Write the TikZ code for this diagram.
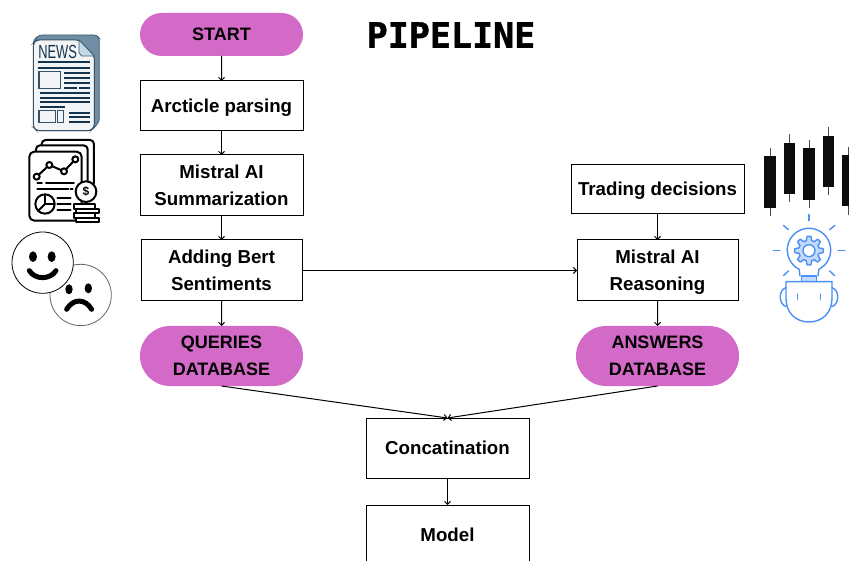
\documentclass[tikz,border=0pt]{standalone}
\usepackage{fontspec}
\setmainfont{Liberation Sans}
\newfontfamily\titlefont[BoldFeatures={FakeBold=1.2}]{DejaVu Sans Mono}
\usetikzlibrary{arrows.meta,shapes.misc}
\definecolor{pinkfill}{HTML}{D36AC8}
\definecolor{newsdark}{HTML}{12344F}
\definecolor{newsback}{HTML}{6F8DA3}
\definecolor{newsfold}{HTML}{C3DAE6}
\definecolor{newspage}{HTML}{F3F4F5}
\definecolor{robotblue}{HTML}{4A90F5}
\definecolor{robotfill}{HTML}{C5D9FB}
\tikzset{
  txt/.style={font=\fontsize{18.7}{27}\selectfont\bfseries,align=center,inner sep=0pt,outer sep=0pt},
  box/.style={txt,draw=black,line width=1pt,fill=white},
  pill/.style={txt,font=\fontsize{18}{27}\selectfont\bfseries,fill=pinkfill,rounded rectangle,minimum width=163pt},
  flow/.style={draw=black,line width=1pt,-{Straight Barb[length=3pt,width=6pt]}},
  zoomed/.style={x=0.3333pt,y=-0.3333pt},
  newsbar/.style={draw=newsdark,line width=1.9pt},
  ink/.style={draw=black,line width=2pt,line join=round,line cap=round},
  face/.style={draw=black,line width=0.8pt,fill=white},
  feature/.style={draw=black,line width=5pt,line cap=round},
  candle/.style={fill=black!95,draw=none},
  wick/.style={draw=black!70,line width=1pt},
  robot/.style={draw=robotblue,line width=1.4pt,line cap=round,line join=round}
}
\begin{document}
\begin{tikzpicture}[x=1pt,y=-1pt]
\path[use as bounding box,clip] (0,0) rectangle (849,561);
\fill[white] (0,0) rectangle (849,561);

% Flow nodes
\node[pill,minimum height=43pt] (start) at (221.5,34.5) {START};
\node[box,minimum width=163pt,minimum height=50pt] (parse) at (221.5,106) {\raisebox{0pt}[12.6pt][0pt]{Arcticle parsing}};
\node[box,minimum width=163pt,minimum height=61pt] (summ) at (221.5,185.5) {Mistral AI\\Summarization};
\node[box,minimum width=161pt,minimum height=61pt] (bert) at (221.5,270.5) {Adding Bert\\Sentiments};
\node[pill,minimum height=60pt] (queries) at (221.5,356) {QUERIES\\DATABASE};
\node[box,minimum width=173pt,minimum height=49pt] (trade) at (657.5,189.5) {\raisebox{0pt}[12.6pt][0pt]{Trading decisions}};
\node[box,minimum width=161pt,minimum height=61pt] (reason) at (657.5,270.5) {Mistral AI\\\smash{Reasoning}};
\node[pill,minimum height=60pt] (answers) at (657.5,356) {ANSWERS\\DATABASE};
\node[box,minimum width=163pt,minimum height=60pt] (concat) at (447.5,448) {Concatination};
\node[box,minimum width=163pt,minimum height=60pt] (model) at (447.5,535) {Model};
\node[inner sep=0pt,font=\titlefont\fontsize{35}{35}\selectfont\bfseries] (title) at (451,35) {PIPELINE};

% Connectors
\draw[flow] (start) -- (parse);
\draw[flow] (parse) -- (summ);
\draw[flow] (summ) -- (bert);
\draw[flow] (bert) -- (queries);
\draw[flow] (bert) -- (reason);
\draw[flow] (trade) -- (reason);
\draw[flow] (reason) -- (answers);
\draw[flow] (queries.south) -- (concat.north);
\draw[flow] (answers.south) -- (concat.north);
\draw[flow] (concat) -- (model);

% Newspaper icon
\begin{scope}[shift={(0,20)},zoomed]
  \path[fill=newsback,draw=newsdark!80,line width=0.8pt,rounded corners=3pt]
    (118,45) -- (290,45) -- (298,55) -- (298,305) -- (275,332) -- (110,332) -- (100,60) -- cycle;
  \path[fill=newspage,draw=newsdark!85,line width=1pt,rounded corners=3pt]
    (110,60) -- (237,60) -- (283,108) -- (283,320) -- (272,332) -- (110,332) -- (100,322) -- (100,70) -- cycle;
  \path[fill=newsfold,draw=newsdark!80,line width=0.8pt] (237,60) -- (283,108) -- (245,108) -- (237,98) -- cycle;
  \node[inner sep=0pt,text=newsdark,font=\fontsize{19}{19}\selectfont,xscale=0.68] (newsword) at (173,97) {NEWS};
  \draw[newsbar] (113,127) -- (270,127);
  \draw[newsbar] (113,143) -- (270,143);
  \draw[newsdark!85,fill=newspage,line width=1.1pt] (117,154) rectangle (182,206);
  \foreach \yy in {159,174,188} \draw[newsbar] (192,\yy) -- (270,\yy);
  \draw[newsbar] (192,203) -- (231,203);
  \draw[newsbar] (238,203) -- (270,203);
  \foreach \yy in {218,233,247} \draw[newsbar] (120,\yy) -- (270,\yy);
  \draw[newsbar] (120,261) -- (195,261);
  \draw[newsdark!85,line width=1.1pt] (117,272) rectangle (166,308);
  \draw[newsdark!85,line width=1.1pt] (172,272) rectangle (190,308);
  \foreach \yy in {278,292,306} \draw[newsbar] (207,\yy) -- (270,\yy);
\end{scope}

% Financial report icon
\begin{scope}[shift={(0,130)},zoomed]
  \draw[ink,rounded corners=4pt] (125,45) -- (125,30) -- (282,30) -- (282,160);
  \draw[ink,rounded corners=4pt] (108,62) -- (108,46) -- (263,46) -- (263,160);
  \path[ink,fill=white,rounded corners=5pt] (88,65) rectangle (245,272);
  \draw[ink] (110,140) -- (148,105) -- (192,124) -- (226,88);
  \foreach \px/\py in {110/140,148/105,192/124,226/88}
    \path[ink,fill=white] (\px,\py) circle (9);
  \draw[ink] (112,160) -- (126,160);
  \draw[ink] (138,160) -- (222,160);
  \draw[ink] (112,178) -- (205,178);
  \draw[ink] (212,178) -- (218,178);
  \path[ink,fill=white] (135,222) circle (29);
  \draw[ink] (135,222) -- (135,193);
  \draw[ink] (135,222) -- (162,222);
  \draw[ink] (135,222) -- (115,242);
  \draw[ink] (172,203) -- (212,203);
  \draw[ink] (172,222) -- (212,222);
  \draw[ink] (172,240) -- (212,240);
  \path[ink,fill=white] (258,185) circle (31);
  \node[inner sep=0pt,font=\fontsize{12}{12}\selectfont\bfseries] (dollar) at (258,185) {\$};
  \path[ink,fill=white] (222,222) rectangle (285,236);
  \path[ink,fill=white] (228,236) rectangle (296,250);
  \path[ink,fill=white] (222,250) rectangle (285,264);
  \path[ink,fill=white] (228,264) rectangle (296,277);
\end{scope}

% Smileys
\begin{scope}[shift={(0,130)},zoomed]
  \path[face,draw=black!60] (242,495) circle (92);
  \path[face] (128,398) circle (92);
  \fill (99,380) ellipse (12 and 16);
  \fill (155,380) ellipse (12 and 16);
  \draw[feature] (88,422) .. controls (105,450) and (150,450) .. (168,422);
  \fill (207,478) ellipse (11 and 15);
  \fill (265,475) ellipse (11 and 15);
  \draw[feature] (200,538) .. controls (220,505) and (255,505) .. (275,538);
\end{scope}

% Candles
\begin{scope}[shift={(750,120)},zoomed]
  \foreach \xl/\yt/\yb/\wt/\wb in {43/109/264/85/288,101/68/222/43/247,160/85/240/60/264,218/47/202/22/226,277/105/259/80/285}{
    \draw[wick] (\xl+17.5,\wt) -- (\xl+17.5,\wb);
    \path[candle] (\xl,\yt) rectangle (\xl+35,\yb);
  }
\end{scope}

% Robot head with light bulb
\begin{scope}[shift={(750,120)},zoomed]
  \draw[robot] (177,284) -- (177,302);
  \draw[robot] (100,316) -- (115,329);
  \draw[robot] (255,316) -- (239,329);
  \draw[robot] (70,391) -- (90,391);
  \draw[robot] (265,391) -- (285,391);
  \draw[robot] (100,467) -- (115,453);
  \draw[robot] (254,467) -- (239,453);
  \draw[robot] (150,468) -- (147.5,448) -- plot[samples=60,domain=117:423] ({177+65*cos(\x)},{390+65*sin(\x)}) -- (204,468);
  \path[robot,fill=robotfill] (155,468) rectangle (200,485);
  \path[robot,fill=robotfill] plot[smooth cycle,samples=96,domain=0:356.25]
    ({177+(37+6*max(-1,min(1,2.5*cos(8*\x))))*cos(\x)},{392+(37+6*max(-1,min(1,2.5*cos(8*\x))))*sin(\x)});
  \path[robot,fill=white] (177,392) circle (18);
  \draw[robot] (108,485) -- (246,485) -- (246,536) .. controls (246,580) and (215,606) .. (177,606) .. controls (139,606) and (108,580) .. (108,536) -- cycle;
  \draw[robot] (108,503) .. controls (85,510) and (85,552) .. (108,560);
  \draw[robot] (246,503) .. controls (269,510) and (269,552) .. (246,560);
  \draw[robot] (143,522) -- (143,538);
  \draw[robot] (211,522) -- (211,538);
\end{scope}
\end{tikzpicture}
\end{document}
